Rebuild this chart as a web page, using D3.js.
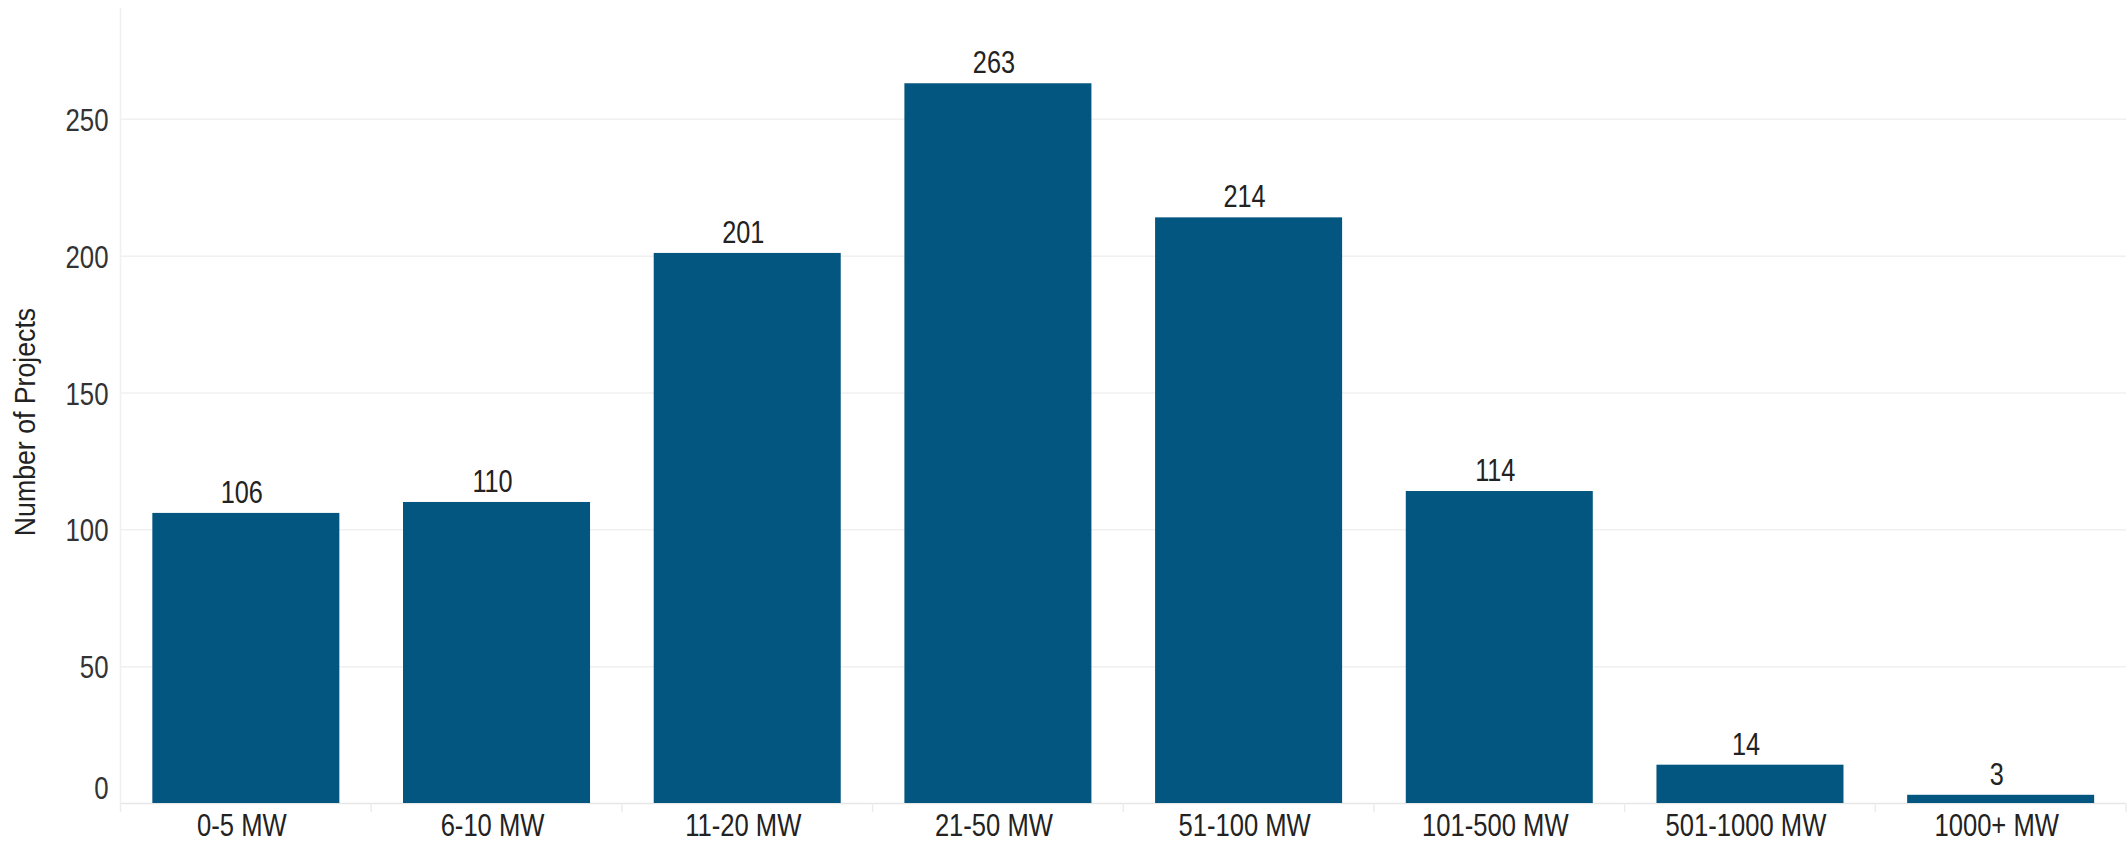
<!DOCTYPE html>
<html>
<head>
<meta charset="utf-8">
<script src="https://cdn.jsdelivr.net/npm/d3@7"></script>
<style>
  html, body { margin: 0; padding: 0; background: #fff; }
  text { font-family: "Liberation Sans", Arial, sans-serif; }
</style>
</head>
<body>
<svg id="chart" width="2128" height="843"></svg>
<script>
const categories = ["0-5 MW", "6-10 MW", "11-20 MW", "21-50 MW", "51-100 MW", "101-500 MW", "501-1000 MW", "1000+ MW"];
const projects = [106, 110, 201, 263, 214, 114, 14, 3];
const yTicks = [0, 50, 100, 150, 200, 250];
const yTitle = "Number of Projects";

const W = 2128, H = 843;
const paneL = 120.5, paneR = 2126, paneT = 8, paneB = 803;
const svg = d3.select("#chart");
svg.append("rect").attr("width", W).attr("height", H).attr("fill", "#fff");

const x = d3.scaleBand().domain(categories).range([paneL, paneR])
  .paddingInner(0.254).paddingOuter(0.127);
const y = d3.scaleLinear().domain([0, 290.5]).range([paneB, paneT]);

// Y axis with gridlines
const yAxis = svg.append("g").attr("transform", `translate(${paneL},0)`)
  .call(d3.axisLeft(y).tickValues(yTicks).tickSize(-(paneR - paneL)).tickFormat(d3.format("d")));
yAxis.select(".domain").remove();
yAxis.selectAll(".tick line")
  .attr("stroke", d => d === 0 ? "#e6e6e6" : "#f0f0f0")
  .attr("stroke-width", 1.5);
yAxis.selectAll(".tick text")
  .attr("x", null).attr("dy", null)
  .attr("fill", "#333")
  .style("font-size", "32px")
  .attr("text-anchor", "end")
  .attr("transform", d => `translate(-12, ${d === 0 ? -5 : 11.5}) scale(0.806,1)`);

// pane left border
svg.append("line").attr("x1", paneL).attr("x2", paneL).attr("y1", paneT).attr("y2", paneB)
  .attr("stroke", "#f0f0f0").attr("stroke-width", 1.5);

// band boundary ticks
const step = x.step();
const bounds = categories.map(c => x(c) + x.bandwidth() / 2 - step / 2);
bounds.push(paneR);
svg.append("g").selectAll("line").data(bounds).join("line")
  .attr("x1", d => d).attr("x2", d => d)
  .attr("y1", paneB).attr("y2", paneB + 9)
  .attr("stroke", "#ececec").attr("stroke-width", 1.5);

// Bars
svg.append("g").selectAll("rect").data(projects).join("rect")
  .attr("x", (d, i) => x(categories[i]))
  .attr("width", x.bandwidth())
  .attr("y", d => y(d))
  .attr("height", d => y(0) - y(d))
  .attr("fill", "#03567f");

// Value labels
svg.append("g").selectAll("text").data(projects).join("text")
  .attr("transform", (d, i) => `translate(${x(categories[i]) + x.bandwidth() / 2 - 4}, ${y(d) - 10}) scale(0.79,1)`)
  .attr("text-anchor", "middle")
  .attr("fill", "#222")
  .style("font-size", "32px")
  .text(d => d);

// X axis labels
const xAxis = svg.append("g").attr("transform", `translate(0,${paneB})`)
  .call(d3.axisBottom(x).tickSize(0));
xAxis.select(".domain").remove();
xAxis.selectAll(".tick text")
  .attr("y", null).attr("dy", null)
  .attr("fill", "#222")
  .style("font-size", "32px")
  .attr("transform", "translate(-4,33) scale(0.8,1)");

// Y title
svg.append("text")
  .attr("transform", `translate(35, 422) rotate(-90) scale(0.92,1)`)
  .attr("text-anchor", "middle")
  .attr("fill", "#222")
  .style("font-size", "29px")
  .text(yTitle);
</script>
</body>
</html>
